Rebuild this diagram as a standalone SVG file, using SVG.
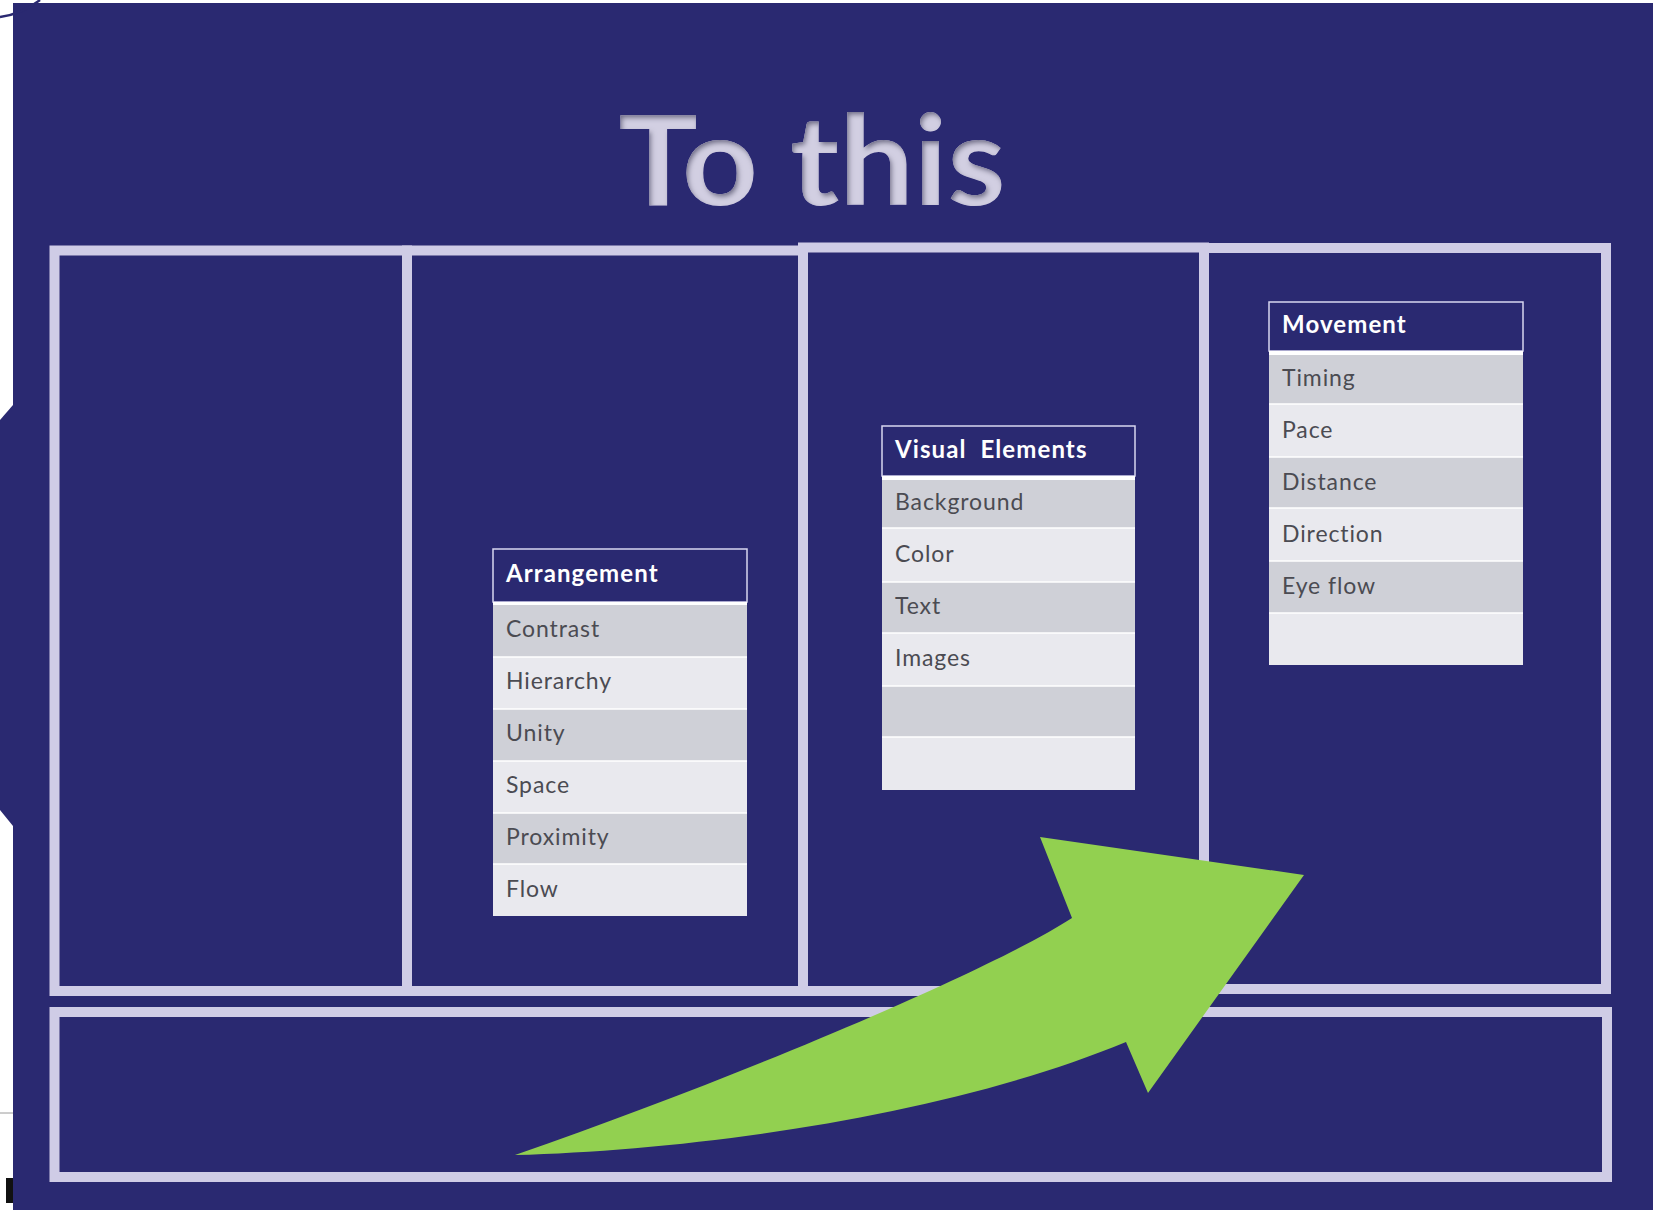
<svg xmlns="http://www.w3.org/2000/svg" width="1653" height="1210" viewBox="0 0 1653 1210">
<defs>
<style>
.frame{fill:none;stroke:#cfcce6;stroke-width:10}
.hdr{fill:#2a2971;stroke:#d8d6ef;stroke-width:1.5}
.rd{fill:#cfd0d7}
.rl{fill:#e9e9ee}
.sep{stroke:#ffffff;stroke-width:1.5}
.ht{font-family:Lato,"Open Sans",sans-serif;font-weight:bold;font-size:24px;letter-spacing:1.1px;fill:#ffffff}
.bt{font-family:Lato,"Open Sans",sans-serif;font-size:23px;letter-spacing:0.9px;fill:#4b4b52}
</style>
<filter id="emb" x="-5%" y="-10%" width="110%" height="120%">
<feGaussianBlur in="SourceAlpha" stdDeviation="2.5" result="b"/>
<feOffset dx="2" dy="3" in="b" result="o"/>
<feComposite in="o" in2="SourceAlpha" operator="arithmetic" k2="-1" k3="1" result="inner"/>
<feFlood flood-color="#5a5878" flood-opacity="0.9"/>
<feComposite in2="inner" operator="in" result="sh"/>
<feMerge><feMergeNode in="SourceGraphic"/><feMergeNode in="sh"/></feMerge>
</filter>
</defs>
<rect x="0" y="0" width="1653" height="1210" fill="#ffffff"/>
<rect x="13" y="3" width="1640" height="1207" fill="#2a2971"/>
<polygon points="13,405 0,420 0,810 13,826" fill="#2a2971"/>
<path d="M0,17 Q22,14 40,0" fill="none" stroke="#2a2971" stroke-width="2.5"/>
<line x1="0" y1="1113" x2="13" y2="1113" stroke="#9a9a9a" stroke-width="1"/>
<rect x="6" y="1178" width="7" height="25" fill="#111111"/>

<text x="812" y="205" text-anchor="middle" font-family="Lato,'Open Sans',sans-serif" font-weight="bold" font-size="125" fill="#d2cfe2" textLength="387" lengthAdjust="spacingAndGlyphs" filter="url(#emb)">To this</text>

<g id="frames">
<rect id="col1" class="frame" x="54.5" y="250.5" width="352.5" height="740.5"/>
<rect id="col2" class="frame" x="407" y="250.5" width="396" height="740.5"/>
<rect id="col3" class="frame" x="803" y="247.5" width="401" height="743.5"/>
<rect id="col4" class="frame" x="1204" y="248" width="402" height="741"/>
<rect id="bottom" class="frame" x="54.5" y="1012" width="1552.5" height="165"/>
</g>

<g id="arrangement">
<rect class="hdr" x="493" y="549" width="254" height="53"/>
<rect x="493" y="602" width="254" height="3" fill="#ffffff"/>
<rect class="rd" x="493" y="605" width="254" height="52"/>
<rect class="rl" x="493" y="657" width="254" height="52"/>
<rect class="rd" x="493" y="709" width="254" height="52"/>
<rect class="rl" x="493" y="761" width="254" height="52"/>
<rect class="rd" x="493" y="813" width="254" height="51"/>
<rect class="rl" x="493" y="864" width="254" height="52"/>
<line class="sep" x1="493" y1="657" x2="747" y2="657"/>
<line class="sep" x1="493" y1="709" x2="747" y2="709"/>
<line class="sep" x1="493" y1="761" x2="747" y2="761"/>
<line class="sep" x1="493" y1="813" x2="747" y2="813"/>
<line class="sep" x1="493" y1="864" x2="747" y2="864"/>
<text class="ht" x="506" y="582">Arrangement</text>
<text class="bt" x="506" y="637">Contrast</text>
<text class="bt" x="506" y="689">Hierarchy</text>
<text class="bt" x="506" y="741">Unity</text>
<text class="bt" x="506" y="793">Space</text>
<text class="bt" x="506" y="845">Proximity</text>
<text class="bt" x="506" y="897">Flow</text>
</g>

<g id="visual-elements">
<rect class="hdr" x="882" y="426" width="253" height="50"/>
<rect x="882" y="476" width="253" height="4" fill="#ffffff"/>
<rect class="rd" x="882" y="480" width="253" height="48"/>
<rect class="rl" x="882" y="528" width="253" height="54"/>
<rect class="rd" x="882" y="582" width="253" height="51"/>
<rect class="rl" x="882" y="633" width="253" height="53"/>
<rect class="rd" x="882" y="686" width="253" height="51"/>
<rect class="rl" x="882" y="737" width="253" height="53"/>
<line class="sep" x1="882" y1="528" x2="1135" y2="528"/>
<line class="sep" x1="882" y1="582" x2="1135" y2="582"/>
<line class="sep" x1="882" y1="633" x2="1135" y2="633"/>
<line class="sep" x1="882" y1="686" x2="1135" y2="686"/>
<line class="sep" x1="882" y1="737" x2="1135" y2="737"/>
<text class="ht" x="895" y="458" xml:space="preserve">Visual  Elements</text>
<text class="bt" x="895" y="510">Background</text>
<text class="bt" x="895" y="562">Color</text>
<text class="bt" x="895" y="614">Text</text>
<text class="bt" x="895" y="666">Images</text>
</g>

<g id="movement">
<rect class="hdr" x="1269" y="302" width="254" height="49"/>
<rect x="1269" y="351" width="254" height="4" fill="#ffffff"/>
<rect class="rd" x="1269" y="355" width="254" height="49"/>
<rect class="rl" x="1269" y="404" width="254" height="53"/>
<rect class="rd" x="1269" y="457" width="254" height="51"/>
<rect class="rl" x="1269" y="508" width="254" height="53"/>
<rect class="rd" x="1269" y="561" width="254" height="52"/>
<rect class="rl" x="1269" y="613" width="254" height="52"/>
<line class="sep" x1="1269" y1="404" x2="1523" y2="404"/>
<line class="sep" x1="1269" y1="457" x2="1523" y2="457"/>
<line class="sep" x1="1269" y1="508" x2="1523" y2="508"/>
<line class="sep" x1="1269" y1="561" x2="1523" y2="561"/>
<line class="sep" x1="1269" y1="613" x2="1523" y2="613"/>
<text class="ht" x="1282" y="333">Movement</text>
<text class="bt" x="1282" y="386">Timing</text>
<text class="bt" x="1282" y="438">Pace</text>
<text class="bt" x="1282" y="490">Distance</text>
<text class="bt" x="1282" y="542">Direction</text>
<text class="bt" x="1282" y="594">Eye flow</text>
</g>

<g id="connectors">
<path id="arrow" d="M515,1155 C700,1150 950,1115 1126,1042 L1148,1093 L1304,875 L1040,837 L1072,918 C1000,965 760,1070 515,1155 Z" fill="#92d050"/>
</g>
</svg>
